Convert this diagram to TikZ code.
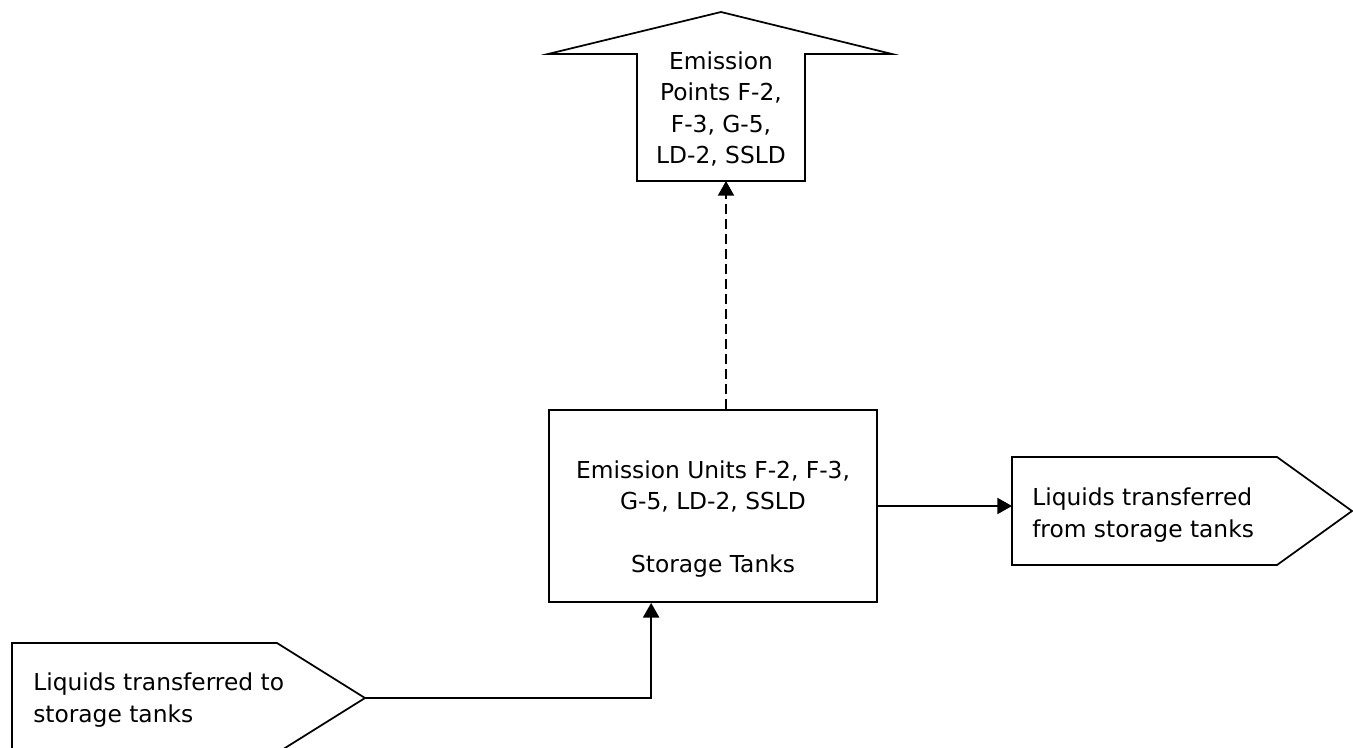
\documentclass[tikz,border=0pt]{standalone}
\usepackage{fontspec}
\setmainfont{DejaVu Sans}
\usetikzlibrary{arrows.meta,calc,positioning}

\begin{document}
\begin{tikzpicture}[x=0.75pt,y=-0.75pt,>={Triangle[width=12pt,length=11pt]},line join=miter,
	every node/.style={font=\fontsize{17.5pt}{23.6pt}\selectfont,align=center,inner sep=0pt},
	outline/.style={draw,line width=1.3pt},
	flow/.style={->,line width=1.6pt},
	vent/.style={flow,dash pattern=on 7.5pt off 3.75pt}]
	\useasboundingbox (0,0) rectangle (1353,747);
	% storage tanks
	\node[outline,minimum width=246pt,minimum height=144pt] (tanks) at (713,506) {};
	\node (tankstext) at (713,519) {Emission Units F-2, F-3,\\G-5, LD-2, SSLD\\[23.6pt]Storage Tanks};
	% emission points
	\draw[outline] (637,181) -- (637,54) -- (548,54) -- (721,12) -- (892,54) -- (805,54) -- (805,181) -- cycle;
	\node (points) at (721,109) {Emission\\Points F-2,\\F-3, G-5,\\LD-2, SSLD};
	\coordinate (pointsbase) at (726,181);
	% liquids in
	\draw[outline] (12,643) -- (277,643) -- (365,698) -- (277,753) -- (12,753) -- cycle;
	\coordinate (inflowtip) at (365,698);
	\node[anchor=west,align=left] (inflow) at (33,700) {Liquids transferred to\\storage tanks};
	% liquids out
	\draw[outline] (1012,457) -- (1277,457) -- (1352,511) -- (1277,565) -- (1012,565) -- cycle;
	\coordinate (outflowedge) at (1012,511);
	\node[anchor=west,align=left] (outflow) at (1032,515) {Liquids transferred\\from storage tanks};
	\coordinate (tanksin) at ($(tanks.south west)+(103,0)$);
	\draw[flow] (inflowtip) -| (tanksin);
	\draw[flow] (tanks.east) -- (tanks.east -| outflowedge);
	\draw[vent] (tanks.north -| pointsbase) -- (pointsbase);
\end{tikzpicture}
\end{document}
